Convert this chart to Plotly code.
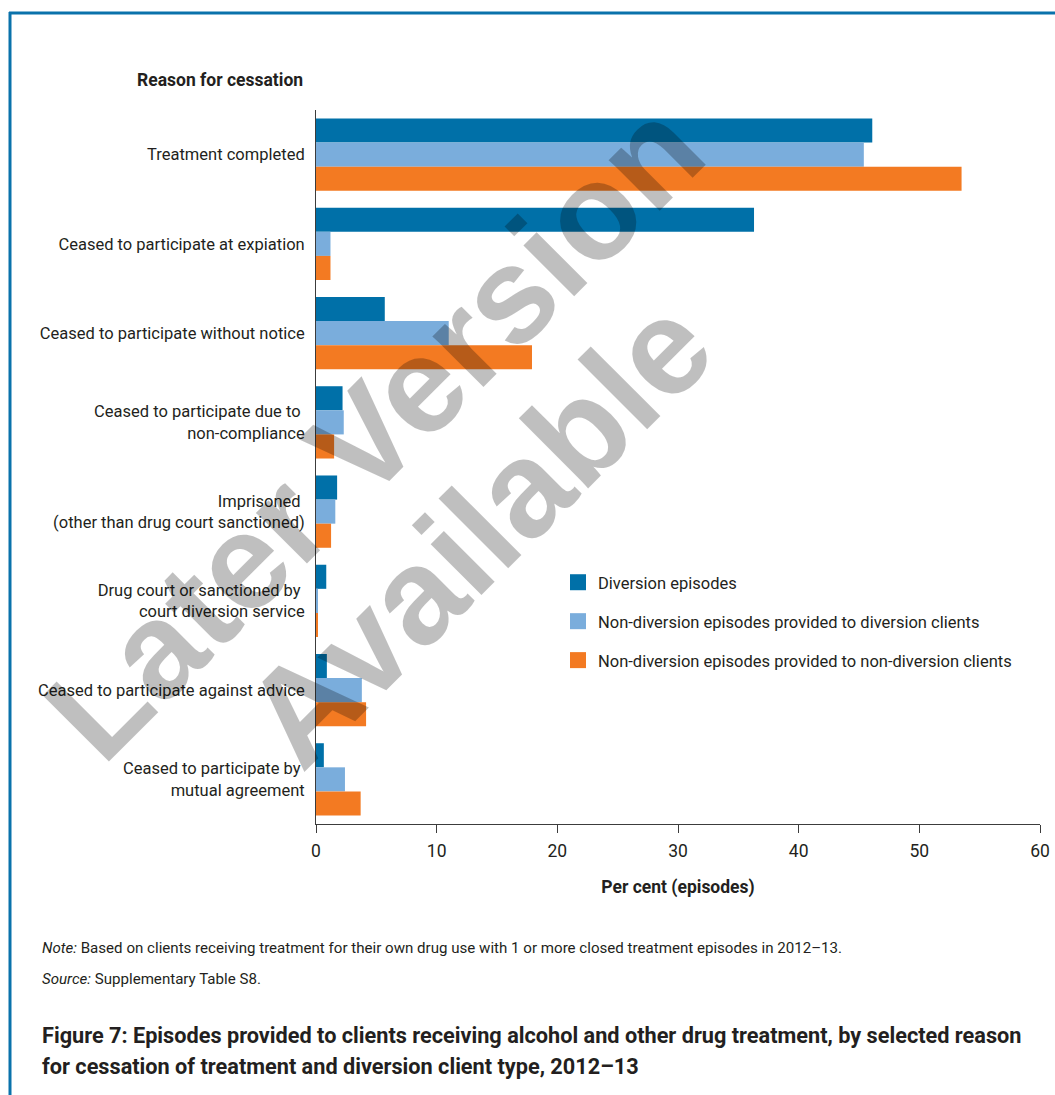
import plotly.graph_objects as go

categories = [
    "Treatment completed",
    "Ceased to participate at expiation",
    "Ceased to participate without notice",
    "Ceased to participate due to <br>non-compliance",
    "Imprisoned <br>(other than drug court sanctioned)",
    "Drug court or sanctioned by <br>court diversion service",
    "Ceased to participate against advice",
    "Ceased to participate by <br>mutual agreement",
]
series_names = [
    "Diversion episodes",
    "Non-diversion episodes provided to diversion clients",
    "Non-diversion episodes provided to non-diversion clients",
]
diversion = [46.1, 36.3, 5.7, 2.2, 1.75, 0.85, 0.9, 0.65]
nondiv_to_div = [45.4, 1.2, 11.0, 2.3, 1.6, 0.15, 3.8, 2.4]
nondiv_to_nondiv = [53.5, 1.2, 17.9, 1.5, 1.25, 0.1, 4.15, 3.7]
x_ticks = [0, 10, 20, 30, 40, 50, 60]

colors = ["#0070a8", "#7aaddc", "#f37a22"]
FONT = "Roboto, Liberation Sans, Arial, sans-serif"
TXT = "#231f20"

W, H = 1055, 1095
L, R, T, B = 316, 1040, 110, 824


def px2x(px):
    return (px - L) / (R - L)


def py2y(py):
    return (B - py) / (B - T)


fig = go.Figure()
for name, vals, col in zip(series_names, [diversion, nondiv_to_div, nondiv_to_nondiv], colors):
    fig.add_trace(go.Bar(
        y=categories, x=vals, name=name, orientation="h",
        marker=dict(color=col, line=dict(width=0)),
        showlegend=False,
    ))
for i, (name, col) in enumerate(zip(series_names, colors)):
    fig.add_trace(go.Scatter(
        x=[None], y=[None], mode="markers", name=name,
        marker=dict(symbol="square", size=22, color=col),
        legendgroup=f"g{i}", showlegend=True,
    ))

fig.update_layout(
    width=W, height=H,
    margin=dict(l=L, r=W - R, t=T, b=H - B, autoexpand=False),
    paper_bgcolor="white", plot_bgcolor="white",
    barmode="group", bargap=0.19, bargroupgap=0,
    font=dict(family=FONT, size=16.5, color=TXT),
    legend=dict(
        x=px2x(558), y=py2y(565), xanchor="left", yanchor="top",
        font=dict(size=16.5, color=TXT), tracegroupgap=14.5,
        bgcolor="rgba(0,0,0,0)", itemsizing="trace",
    ),
    xaxis=dict(
        range=[0, 60], tickvals=x_ticks, ticks="outside", ticklen=8,
        tickcolor="#3c3c3c", showline=True, linecolor="#3c3c3c", linewidth=1,
        showgrid=False, zeroline=False, tickfont=dict(size=17.5),
        ticklabelstandoff=3,
        title=dict(text="<b>Per cent (episodes)</b>", font=dict(size=17.5), standoff=20),
    ),
    yaxis=dict(
        categoryorder="array", categoryarray=categories, autorange="reversed",
        showline=True, linecolor="#3c3c3c", linewidth=1, ticks="",
        showgrid=False, zeroline=False, ticklabelstandoff=7,
        tickfont=dict(size=16.5),
    ),
)

annotations = [
    dict(text="<b>Reason for cessation</b>", x=px2x(305), y=py2y(80),
         xanchor="right", yanchor="middle", font=dict(size=17.5)),
    dict(text="<i>Note:</i> Based on clients receiving treatment for their own drug use with 1 or more closed treatment episodes in 2012–13.",
         x=px2x(40), y=py2y(948), xanchor="left", yanchor="middle", font=dict(size=15.1)),
    dict(text="<i>Source:</i> Supplementary Table S8.",
         x=px2x(40), y=py2y(979), xanchor="left", yanchor="middle", font=dict(size=15.1)),
    dict(text="<b>Figure 7: Episodes provided to clients receiving alcohol and other drug treatment, by selected reason</b>",
         x=px2x(40), y=py2y(1035), xanchor="left", yanchor="middle", font=dict(size=21.7)),
    dict(text="<b>for cessation of treatment and diversion client type, 2012–13</b>",
         x=px2x(40), y=py2y(1066), xanchor="left", yanchor="middle", font=dict(size=21.7)),
    dict(text="<b>Later Version</b>", x=px2x(374), y=py2y(430), textangle=-45,
         xanchor="center", yanchor="middle",
         font=dict(family="Liberation Sans, Arial, sans-serif", size=136, color="rgba(0,0,0,0.25)")),
    dict(text="<b>Available</b>", x=px2x(478), y=py2y(532), textangle=-45,
         xanchor="center", yanchor="middle",
         font=dict(family="Liberation Sans, Arial, sans-serif", size=136, color="rgba(0,0,0,0.25)")),
]
for a in annotations:
    a.update(xref="paper", yref="paper", showarrow=False)
fig.update_layout(annotations=annotations)

border = "#0a72ab"
fig.update_layout(shapes=[
    dict(type="line", xref="paper", yref="paper", x0=px2x(9), x1=px2x(1060),
         y0=py2y(13), y1=py2y(13), line=dict(color=border, width=3)),
    dict(type="line", xref="paper", yref="paper", x0=px2x(10), x1=px2x(10),
         y0=py2y(12), y1=py2y(1100), line=dict(color=border, width=3)),
])

fig.write_html(
    "out.html",
    config={"displayModeBar": False},
    post_script="document.body.style.margin='0';document.body.style.overflow='hidden';",
)
